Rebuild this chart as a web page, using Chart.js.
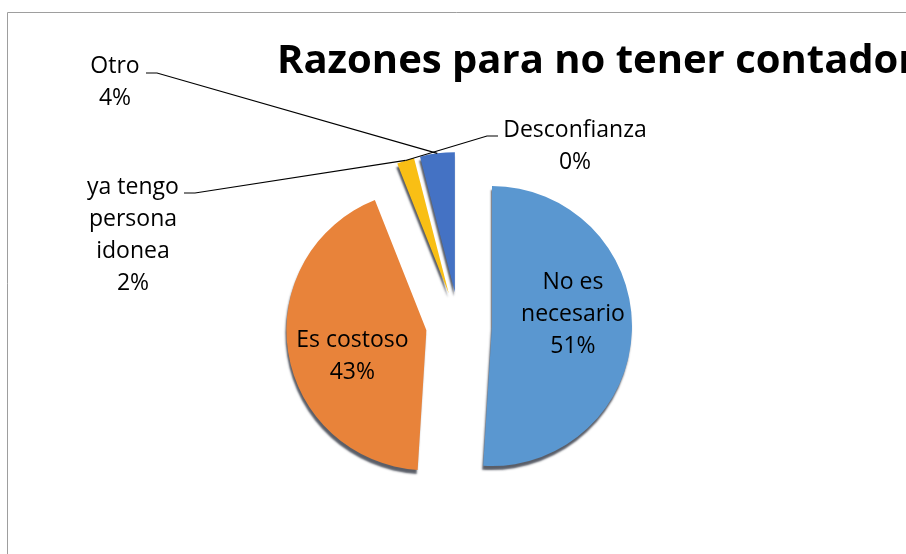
<!DOCTYPE html>
<html>
<head>
<meta charset="utf-8">
<script src="https://cdn.jsdelivr.net/npm/chart.js@4.4.0/dist/chart.umd.min.js"></script>
<style>
  html, body { margin: 0; padding: 0; background: #fff; }
  #wrap { width: 906px; height: 554px; }
</style>
</head>
<body>
<div id="wrap"><canvas id="pieChart" width="906" height="554"></canvas></div>
<script>
var categories = ["No es necesario", "Es costoso", "ya tengo persona idonea", "Otro", "Desconfianza"];
var shares = [51, 43, 2, 4, 0];
var colors = ["#5A97D0", "#E8833A", "#F9BF15", "#4472C4", "#A5A5A5"];

// label text, split in lines as in the original
var labelLines = [
    ["No es", "necesario"],
    ["Es costoso"],
    ["ya tengo", "persona", "idonea"],
    ["Otro"],
    ["Desconfianza"]
];

var FONT = "'Open Sans', Lato, sans-serif";
var LINE_H = 32;
var EXPLODE = 33; // px each slice is pulled out from the centre

// inner labels: nudge from a point at 55% of the radius
var innerNudge = { 0: [4, -14], 1: [2, 14] };
// outer labels: text block centre x, first line y, tick start, tick direction, slice the leader goes to
var outerLabels = {
    3: { x: 115, y: 66, tickX: 146, tickY: 73, dir: 1, anchor: 3 },
    2: { x: 133, y: 187, tickX: 184, tickY: 193, dir: 1, anchor: 2 },
    4: { x: 575, y: 130, tickX: 498, tickY: 136, dir: -1, anchor: 2 }
};

function slicePoint(arc, frac) {
    var mid = (arc.startAngle + arc.endAngle) / 2;
    return { x: arc.x + Math.cos(mid) * arc.outerRadius * frac, y: arc.y + Math.sin(mid) * arc.outerRadius * frac };
}

var framePlugin = {
    id: 'frame',
    afterDatasetUpdate: function(chart) {
        // pull every slice out along its middle angle
        chart.getDatasetMeta(0).data.forEach(function(arc) {
            var mid = (arc.startAngle + arc.endAngle) / 2;
            arc.x += Math.cos(mid) * EXPLODE;
            arc.y += Math.sin(mid) * EXPLODE;
        });
    },
    beforeDraw: function(chart) {
        var ctx = chart.ctx;
        ctx.save();
        ctx.strokeStyle = '#9E9E9E';
        ctx.lineWidth = 1;
        ctx.beginPath();
        ctx.moveTo(7.5, 554);
        ctx.lineTo(7.5, 12.5);
        ctx.lineTo(906, 12.5);
        ctx.stroke();
        ctx.fillStyle = '#000';
        ctx.font = "bold 40px " + FONT;
        ctx.textAlign = 'left';
        ctx.textBaseline = 'alphabetic';
        ctx.fillText('Razones para no tener contador', 277, 73);
        ctx.restore();
    },
    beforeDatasetsDraw: function(chart) {
        var ctx = chart.ctx;
        ctx.save();
        ctx.shadowColor = 'rgba(20, 25, 40, 0.7)';
        ctx.shadowBlur = 2;
        ctx.shadowOffsetX = -1;
        ctx.shadowOffsetY = 4;
    },
    afterDatasetsDraw: function(chart) {
        var ctx = chart.ctx;
        ctx.restore();
        var arcs = chart.getDatasetMeta(0).data;
        ctx.save();
        ctx.fillStyle = '#000';
        ctx.font = "23px " + FONT;
        ctx.textAlign = 'center';
        ctx.textBaseline = 'middle';
        arcs.forEach(function(arc, i) {
            var lines = labelLines[i].concat([shares[i] + '%']);
            if (innerNudge[i]) {
                var p = slicePoint(arc, 0.55);
                var x = p.x + innerNudge[i][0];
                var y = p.y + innerNudge[i][1] - (lines.length - 1) * LINE_H / 2;
                lines.forEach(function(t, k) { ctx.fillText(t, x, y + k * LINE_H); });
            } else if (outerLabels[i]) {
                var o = outerLabels[i];
                lines.forEach(function(t, k) { ctx.fillText(t, o.x, o.y + k * LINE_H); });
                var target = slicePoint(arcs[o.anchor], 1);
                ctx.strokeStyle = '#000';
                ctx.lineWidth = 1.2;
                ctx.beginPath();
                ctx.moveTo(o.tickX, o.tickY);
                ctx.lineTo(o.tickX + o.dir * 11, o.tickY);
                ctx.lineTo(target.x, target.y);
                ctx.stroke();
            }
        });
        ctx.restore();
    }
};

var ctx = document.getElementById('pieChart').getContext('2d');
var myChart = new Chart(ctx, {
    type: 'pie',
    data: {
        labels: categories,
        datasets: [{
            data: shares,
            backgroundColor: colors,
            borderWidth: 0,
            radius: 140
        }]
    },
    options: {
        responsive: false,
        animation: false,
        layout: {
            padding: { left: 12, right: 0, top: 96, bottom: 0 }
        },
        plugins: {
            legend: { display: false },
            title: { display: false },
            tooltip: { enabled: false }
        }
    },
    plugins: [framePlugin]
});
</script>
</body>
</html>
